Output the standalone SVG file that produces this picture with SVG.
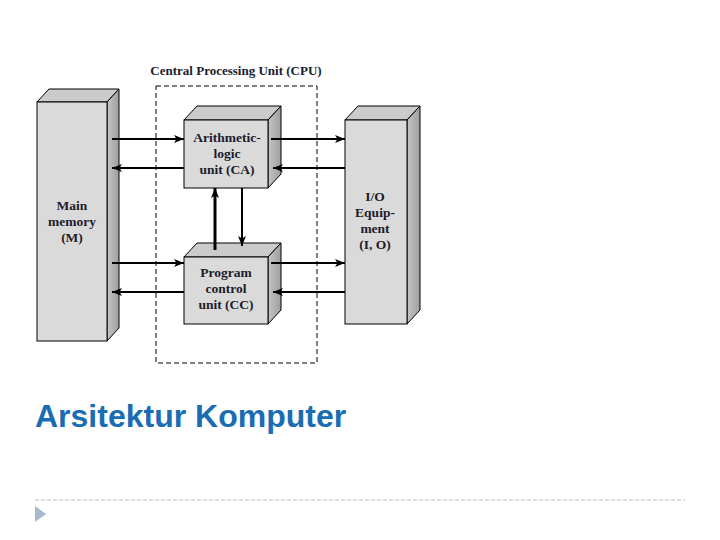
<svg xmlns="http://www.w3.org/2000/svg" width="720" height="540" viewBox="0 0 720 540">
<defs>
<marker id="ah" viewBox="0 0 10 8" refX="10" refY="4" markerWidth="10" markerHeight="8" markerUnits="userSpaceOnUse" orient="auto">
<path d="M0,0 L10,4 L0,8 L2.5,4 Z" fill="#000"/>
</marker>
<linearGradient id="side" x1="0" y1="0" x2="1" y2="0">
<stop offset="0" stop-color="#c4c4c4"/>
<stop offset="1" stop-color="#9e9e9e"/>
</linearGradient>
</defs>
<style>
.front{fill:#dadada;stroke:#000;stroke-width:1}
.top{fill:#cbcbcb;stroke:#000;stroke-width:1}
.side{fill:url(#side);stroke:#000;stroke-width:1}
.lbl{font-family:"Liberation Serif","Times New Roman",serif;font-weight:bold;font-size:13.5px;fill:#1c1c2c;text-anchor:middle}
.conn{stroke:#000;stroke-width:2;fill:none;marker-end:url(#ah)}
</style>
<rect width="720" height="540" fill="#fff"/>

<g id="cpu">
<rect x="156" y="86" width="161" height="277" fill="none" stroke="#000" stroke-width="1" stroke-dasharray="5,3"/>
<text x="236" y="75" class="lbl" style="font-size:13px">Central Processing Unit (CPU)</text>
</g>

<g id="memory">
<polygon class="top" points="37,102 49,89 119,89 107,102"/>
<polygon class="side" points="107,102 119,89 119,328 107,341"/>
<rect class="front" x="37" y="102" width="70" height="239"/>
<text class="lbl" x="72" y="210">Main</text>
<text class="lbl" x="72" y="226">memory</text>
<text class="lbl" x="72" y="242">(M)</text>
</g>

<g id="alu">
<polygon class="top" points="184,120 197,106 281,106 268,120"/>
<polygon class="side" points="268,120 281,106 281,174 268,188"/>
<rect class="front" x="184" y="120" width="84" height="68"/>
<text class="lbl" x="227" y="142">Arithmetic-</text>
<text class="lbl" x="227" y="158">logic</text>
<text class="lbl" x="227" y="174">unit (CA)</text>
</g>

<g id="pcu">
<polygon class="top" points="184,257 197,243 281,243 268,257"/>
<polygon class="side" points="268,257 281,243 281,310 268,324"/>
<rect class="front" x="184" y="257" width="84" height="67"/>
<text class="lbl" x="226" y="277">Program</text>
<text class="lbl" x="226" y="293">control</text>
<text class="lbl" x="226" y="309">unit (CC)</text>
</g>

<g id="io">
<polygon class="top" points="345,120 358,106 420,106 407,120"/>
<polygon class="side" points="407,120 420,106 420,310 407,324"/>
<rect class="front" x="345" y="120" width="62" height="204"/>
<text class="lbl" x="375" y="201">I/O</text>
<text class="lbl" x="375" y="217">Equip-</text>
<text class="lbl" x="375" y="233">ment</text>
<text class="lbl" x="375" y="249">(I, O)</text>
</g>

<g id="connectors">
<line class="conn" x1="112" y1="139" x2="184" y2="139"/>
<line class="conn" x1="184" y1="168" x2="112" y2="168"/>
<line class="conn" x1="271" y1="139" x2="345" y2="139"/>
<line class="conn" x1="345" y1="168" x2="273" y2="168"/>
<line class="conn" x1="112" y1="263" x2="184" y2="263"/>
<line class="conn" x1="184" y1="292" x2="112" y2="292"/>
<line class="conn" x1="271" y1="263" x2="345" y2="263"/>
<line class="conn" x1="345" y1="292" x2="273" y2="292"/>
<line class="conn" x1="215" y1="250" x2="215" y2="188" style="stroke-width:3"/>
<line class="conn" x1="242" y1="188" x2="242" y2="246"/>
</g>

<g id="footer">
<text x="35" y="427" font-family="'Liberation Sans',Arial,sans-serif" font-weight="bold" font-size="32" fill="#1a6db3">Arsitektur Komputer</text>
<line x1="35" y1="500" x2="685" y2="500" stroke="#b4c0cc" stroke-width="1" stroke-dasharray="4,2"/>
<polygon points="35,506 46,514 35,522" fill="#a7b9cf"/>
</g>
</svg>
